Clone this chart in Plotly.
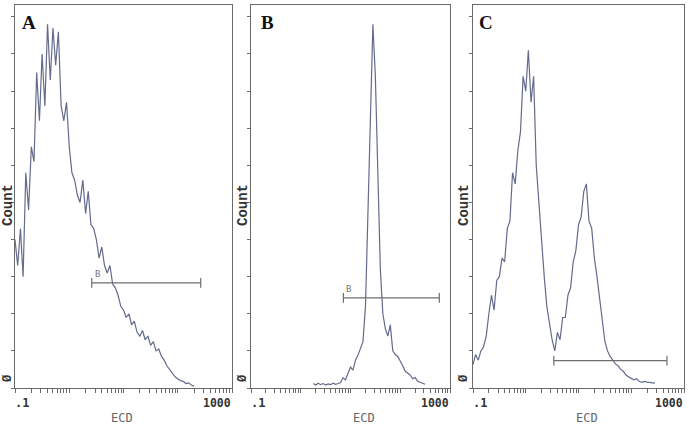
import math
import plotly.graph_objects as go

# ECD channel positions (log-spaced channels, 0.1 .. 316)
ecd = [0.1, 0.112, 0.126, 0.141, 0.158, 0.178, 0.2, 0.224, 0.251, 0.282,
       0.316, 0.355, 0.398, 0.447, 0.501, 0.562, 0.631, 0.708, 0.794, 0.891,
       1.0, 1.12, 1.26, 1.41, 1.58, 1.78, 2.0, 2.24, 2.51, 2.82,
       3.16, 3.55, 3.98, 4.47, 5.01, 5.62, 6.31, 7.08, 7.94, 8.91,
       10, 11.2, 12.6, 14.1, 15.8, 17.8, 20, 22.4, 25.1, 28.2,
       31.6, 35.5, 39.8, 44.7, 50.1, 56.2, 63.1, 70.8, 79.4, 89.1,
       100, 112, 126, 141, 158, 178, 200, 224, 251, 282, 316]

count_A = [40, 33, 43, 30, 58, 48, 65, 61, 85, 72,
           90, 76, 98, 83, 97, 87, 96, 76, 72, 77,
           65, 58, 56, 52, 50, 56, 47, 53, 44, 43,
           40, 35, 38, 33, 31, 33, 28, 27, 25, 22,
           21, 19, 20, 17, 18, 15, 14, 15.5, 13, 14,
           11.5, 12.5, 10, 10.5, 8.5, 7.5, 6, 5, 4, 3,
           2.5, 2, 1.8, 1.2, 1.4, 0.8, 0.5, None, None, None, None]

count_B = [None] * 25 + [
           1.2, 0.8, 1.3, 0.9, 1.2, 0.8, 1.1, 0.9, 1.3, 1.0,
           1.2, 1.5, 2.8, 2.2, 4.0, 5.6, 4.8, 7.5, 8.8, 10.5,
           12.5, 22, 45, 75, 98, 84, 56, 32, 20, 16,
           14, 17, 10, 9, 8.5, 7, 6, 4.5, 4, 3.5,
           2.5, 2.8, 1.8, 1.5, 1.2, 1.0]

count_C = [6.3, 9, 7.5, 10, 11, 14, 20, 25, 21, 29,
           30, 35, 34, 43, 45, 58, 55, 64, 69, 84,
           80, 91, 77, 84, 60, 49, 40, 30, 22, 17,
           13, 10, 15, 13, 19, 19, 25, 27, 34, 37,
           44, 46, 53, 55, 45, 43, 35, 30, 24, 18,
           12.6, 10, 8.5, 7.5, 6.5, 6, 5, 4.5, 3.5, 3,
           2.7, 2.2, 2.5, 1.8, 1.5, 1.8, 1.6, 1.5, 1.4, 1.3, None]

# gate markers: [start, end] on ECD, level in counts
gate_A_x = [2.6, 265]
gate_A_y = 28.3
gate_B_x = [7.2, 610]
gate_B_y = 24.3
gate_C_x = [3.4, 475]
gate_C_y = 7.4

panel_labels = ["A", "B", "C"]
x_tick_labels = [".1", "1000"]
x_title = "ECD"
y_title = "Count"
y_zero = "Ø"

W, H = 689, 428
def px(x):
    return x / W
def py(y):
    return 1 - y / H

curve_color = "#646b8c"
axis_color = "#6a6a6a"

panels = [
    dict(l=15, r=232, letter_x=29, count_x=8, ecd_x=122, counts=count_A,
         gx=gate_A_x, gy=gate_A_y, glabel="B"),
    dict(l=251, r=450, letter_x=267, count_x=243, ecd_x=364, counts=count_B,
         gx=gate_B_x, gy=gate_B_y, glabel="B"),
    dict(l=473, r=684, letter_x=486, count_x=464, ecd_x=587, counts=count_C,
         gx=gate_C_x, gy=gate_C_y, glabel=None),
]
top_px, bot_px = 5, 388

def ann(x, y, text, font, xanchor="center", yanchor="middle", **kw):
    return dict(x=px(x), y=py(y), xref="paper", yref="paper", text=text,
                showarrow=False, xanchor=xanchor, yanchor=yanchor, font=font, **kw)

fig = go.Figure()
annotations = []
layout_axes = {}
for i, p in enumerate(panels):
    n = "" if i == 0 else str(i + 1)
    xa, ya = "x" + n, "y" + n
    fig.add_trace(go.Scatter(x=ecd, y=p["counts"], mode="lines",
                             line=dict(color=curve_color, width=1.2),
                             connectgaps=False, xaxis=xa, yaxis=ya,
                             showlegend=False, hoverinfo="skip"))
    fig.add_trace(go.Scatter(x=p["gx"], y=[p["gy"], p["gy"]], mode="lines+markers",
                             line=dict(color="#6e6e6e", width=1.2),
                             marker=dict(symbol="line-ns", size=7,
                                         line=dict(color="#6e6e6e", width=1.2)),
                             xaxis=xa, yaxis=ya, showlegend=False, hoverinfo="skip"))
    if p["glabel"]:
        annotations.append(dict(x=math.log10(p["gx"][0]), y=p["gy"], xref=xa, yref=ya,
                                text=p["glabel"], showarrow=False,
                                xanchor="left", yanchor="bottom", xshift=1, yshift=2,
                                font=dict(family="DejaVu Sans Mono", size=9, color="#777")))
    layout_axes["xaxis" + n] = dict(
        type="log", range=[-1, 3], domain=[px(p["l"]), px(p["r"])],
        anchor=ya, showline=True, linecolor=axis_color, linewidth=1, mirror=True,
        ticks="outside", ticklen=4, tickcolor=axis_color, dtick="D1",
        showticklabels=False, showgrid=False, zeroline=False)
    layout_axes["yaxis" + n] = dict(
        range=[0, 103.2], domain=[py(bot_px), py(top_px)], anchor=xa,
        showline=True, linecolor=axis_color, linewidth=1, mirror=True,
        ticks="outside", ticklen=3, tickcolor=axis_color, dtick=10,
        showticklabels=False, showgrid=False, zeroline=False)
    annotations += [
        ann(p["letter_x"], 23, "<b>" + panel_labels[i] + "</b>",
            dict(family="Liberation Serif", size=19, color="#111")),
        ann(p["count_x"], 205, "<b>" + y_title + "</b>",
            dict(family="Liberation Mono", size=14, color="#333"), textangle=-90),
        ann(p["count_x"], 379, "<b>" + y_zero + "</b>",
            dict(family="Liberation Mono", size=12, color="#333"), textangle=-90),
        ann(p["l"] - 2, 403, "<b>" + x_tick_labels[0] + "</b>",
            dict(family="DejaVu Sans Mono", size=12, color="#333"), xanchor="left"),
        ann(p["r"] + 1, 403, "<b>" + x_tick_labels[1] + "</b>",
            dict(family="DejaVu Sans Mono", size=11.5, color="#333"), xanchor="right"),
        ann(p["ecd_x"], 418, x_title,
            dict(family="Liberation Sans Narrow, DejaVu Sans Mono", size=12, color="#666")),
    ]

fig.update_layout(width=W, height=H, margin=dict(l=0, r=0, t=0, b=0),
                  paper_bgcolor="white", plot_bgcolor="white",
                  annotations=annotations, **layout_axes)
fig.write_html("out.html", config={"displayModeBar": False},
               post_script="document.body.style.margin='0';document.body.style.overflow='hidden';")
